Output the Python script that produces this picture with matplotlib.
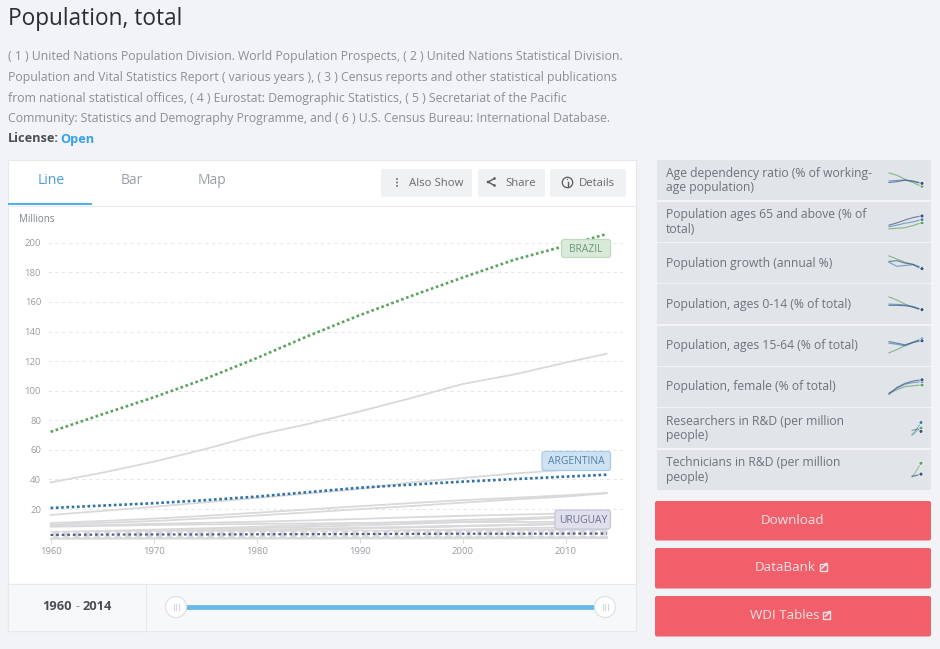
import matplotlib
matplotlib.use("Agg")
import matplotlib.pyplot as plt
from matplotlib.patches import Rectangle, FancyBboxPatch, Circle, Polygon

plt.rcParams['font.family'] = ['Open Sans', 'DejaVu Sans']

W, H = 940, 649
BG = '#f1f3f6'

# ---- data ----
years = [1960, 1965, 1970, 1975, 1980, 1985, 1990, 1995, 2000, 2005, 2010, 2014]
brazil    = [72.2, 84.0, 95.5, 108.0, 122.0, 137.0, 151.0, 164.0, 176.5, 188.5, 198.0, 206.0]
argentina = [20.7, 22.3, 23.9, 26.0, 28.4, 31.4, 34.4, 36.5, 38.5, 40.2, 41.9, 43.2]
uruguay   = [2.5, 2.7, 2.8, 2.8, 2.9, 3.0, 3.1, 3.2, 3.3, 3.3, 3.4, 3.4]
others = {
    'Mexico':     [38.0, 44.5, 52.0, 60.5, 70.0, 77.5, 86.0, 95.0, 104.5, 111.0, 119.0, 125.0],
    'Colombia':   [16.0, 18.7, 21.5, 24.5, 27.5, 30.5, 33.5, 38.0, 41.0, 44.0, 46.5, 48.0],
    'Peru':       [10.5, 11.9, 13.5, 15.4, 17.5, 19.7, 21.9, 24.0, 26.0, 27.6, 29.3, 30.9],
    'Venezuela':  [9.5, 10.6, 11.9, 13.6, 15.6, 17.7, 19.9, 22.0, 24.3, 26.5, 28.4, 30.7],
    'Chile':      [8.5, 9.2, 10.0, 10.7, 11.4, 12.3, 13.3, 14.4, 15.4, 16.2, 17.0, 17.8],
    'Cuba':       [8.0, 8.6, 9.2, 9.6, 9.9, 10.2, 10.6, 10.9, 11.1, 11.2, 11.3, 11.4],
    'Ecuador':    [4.5, 5.2, 6.1, 7.0, 8.0, 9.1, 10.2, 11.4, 12.6, 13.7, 15.0, 15.9],
    'Guatemala':  [4.1, 4.7, 5.4, 6.2, 7.0, 7.9, 8.9, 10.0, 11.2, 12.7, 14.3, 15.9],
    'Bolivia':    [3.7, 4.1, 4.5, 5.0, 5.6, 6.1, 6.8, 7.5, 8.3, 9.1, 10.0, 10.6],
    'Haiti':      [3.9, 4.3, 4.7, 5.1, 5.7, 6.4, 7.1, 7.8, 8.6, 9.3, 10.0, 10.6],
    'Dominican':  [3.3, 3.9, 4.5, 5.1, 5.8, 6.5, 7.2, 7.9, 8.6, 9.2, 9.9, 10.4],
    'Honduras':   [2.0, 2.4, 2.7, 3.2, 3.7, 4.3, 4.9, 5.6, 6.2, 7.0, 7.6, 8.0],
    'Paraguay':   [1.9, 2.2, 2.4, 2.8, 3.2, 3.7, 4.2, 4.8, 5.3, 5.8, 6.2, 6.6],
    'El Salvador':[2.8, 3.2, 3.7, 4.2, 4.6, 4.9, 5.1, 5.6, 5.9, 6.0, 6.0, 6.1],
    'Nicaragua':  [1.8, 2.1, 2.4, 2.8, 3.2, 3.6, 4.1, 4.6, 5.0, 5.4, 5.8, 6.0],
    'Costa Rica': [1.3, 1.5, 1.8, 2.1, 2.4, 2.7, 3.1, 3.5, 3.9, 4.2, 4.6, 4.8],
    'Panama':     [1.1, 1.3, 1.5, 1.7, 2.0, 2.2, 2.4, 2.7, 3.0, 3.3, 3.6, 3.9],
    'Jamaica':    [1.6, 1.8, 1.9, 2.0, 2.1, 2.3, 2.4, 2.5, 2.6, 2.7, 2.7, 2.8],
    'Trinidad':   [0.85, 0.9, 0.95, 1.0, 1.1, 1.2, 1.2, 1.25, 1.3, 1.3, 1.3, 1.35],
    'Guyana':     [0.55, 0.6, 0.7, 0.75, 0.8, 0.8, 0.75, 0.75, 0.75, 0.75, 0.75, 0.76],
    'Suriname':   [0.3, 0.33, 0.37, 0.37, 0.37, 0.38, 0.4, 0.43, 0.47, 0.5, 0.53, 0.54],
    'Bahamas':    [0.11, 0.14, 0.17, 0.19, 0.21, 0.23, 0.26, 0.28, 0.3, 0.33, 0.36, 0.38],
    'Belize':     [0.09, 0.1, 0.12, 0.13, 0.14, 0.16, 0.19, 0.22, 0.25, 0.28, 0.32, 0.35],
    'Barbados':   [0.23, 0.23, 0.24, 0.25, 0.25, 0.26, 0.26, 0.27, 0.27, 0.27, 0.28, 0.28],
}
yticks = [20, 40, 60, 80, 100, 120, 140, 160, 180, 200]
xticks = [1960, 1970, 1980, 1990, 2000, 2010]

side_labels = [
    "Age dependency ratio (% of working-\nage population)",
    "Population ages 65 and above (% of\ntotal)",
    "Population growth (annual %)",
    "Population, ages 0-14 (% of total)",
    "Population, ages 15-64 (% of total)",
    "Population, female (% of total)",
    "Researchers in R&D (per million\npeople)",
    "Technicians in R&D (per million\npeople)",
]
# sparkline values per side item: green, blue, dark series (0-1 relative heights)
spark_t = [0, 1, 2, 3, 4]
spark_green = [
    [0.95, 0.80, 0.55, 0.35, 0.12], [0.05, 0.08, 0.12, 0.25, 0.42], [0.95, 0.75, 0.55, 0.42, 0.25],
    [0.95, 0.75, 0.50, 0.30, 0.15], [0.05, 0.25, 0.50, 0.72, 0.90], [0.08, 0.30, 0.50, 0.55, 0.60],
]
spark_blue = [
    [0.45, 0.48, 0.50, 0.45, 0.32], [0.18, 0.28, 0.40, 0.48, 0.62], [0.55, 0.30, 0.35, 0.40, 0.20],
    [0.50, 0.48, 0.45, 0.35, 0.18], [0.65, 0.58, 0.48, 0.68, 0.92], [0.10, 0.40, 0.65, 0.75, 0.80],
]
spark_dark = [
    [0.35, 0.40, 0.50, 0.42, 0.30], [0.28, 0.42, 0.60, 0.75, 0.85], [0.60, 0.65, 0.50, 0.42, 0.15],
    [0.42, 0.42, 0.40, 0.32, 0.15], [0.75, 0.65, 0.55, 0.70, 0.80], [0.02, 0.45, 0.70, 0.85, 0.92],
]
research_blue = [[0.10, 0.30, 0.55, 0.85], [0.05, 0.10, 0.15, 0.20]]
research_dark = [[0.35, 0.40, 0.45, 0.30], [0.10, 0.12, 0.18, 0.22]]
research_green = [[0.05, 0.20, 0.40, 0.50], [0.05, 0.30, 0.60, 0.90]]

# ---- figure ----
fig = plt.figure(figsize=(W / 100, H / 100), dpi=100, facecolor=BG)
ui = fig.add_axes([0, 0, 1, 1], zorder=1)
ui.set_xlim(0, W); ui.set_ylim(H, 0); ui.axis('off')
top = fig.add_axes([0, 0, 1, 1], zorder=3)
top.set_xlim(0, W); top.set_ylim(H, 0); top.axis('off'); top.patch.set_visible(False)

def rect(x0, y0, x1, y1, fc, ec='none', lw=0, z=1):
    ui.add_patch(Rectangle((x0, y0), x1 - x0, y1 - y0, fc=fc, ec=ec, lw=lw, zorder=z))

def rrect(x0, y0, x1, y1, fc, ec='none', lw=0, r=2, z=1, ax=None):
    (ax or ui).add_patch(FancyBboxPatch((x0 + r, y0 + r), x1 - x0 - 2 * r, y1 - y0 - 2 * r,
                         boxstyle=f"round,pad={r},rounding_size={r}", fc=fc, ec=ec, lw=lw, zorder=z))

def txt(x, y, s, size, color, ha='left', va='center', weight='normal', **k):
    ui.text(x, y + 1, s, fontsize=size, color=color, ha=ha, va=va, fontweight=weight, zorder=5, **k)

# header
txt(8, 18, "Population, total", 16.3, '#2b2f33', weight='medium')
body = ["( 1 ) United Nations Population Division. World Population Prospects, ( 2 ) United Nations Statistical Division.",
        "Population and Vital Statistics Report ( various years ), ( 3 ) Census reports and other statistical publications",
        "from national statistical offices, ( 4 ) Eurostat: Demographic Statistics, ( 5 ) Secretariat of the Pacific",
        "Community: Statistics and Demography Programme, and ( 6 ) U.S. Census Bureau: International Database."]
for i, line in enumerate(body):
    txt(8, 55.5 + i * 20.8, line, 8.83, '#8a8f96')
txt(8, 138, "License:", 9.2, '#4a4f55', weight='bold')
txt(60, 138, "Open", 9.2, '#3aa0e6', weight='bold')

# chart card
rect(8, 160, 636, 631, '#ffffff', ec='#e6e9ec', lw=0.8, z=0.5)
rect(8, 584, 636, 631, '#f7f8fa', ec='#e6e9ec', lw=0.8, z=0.6)
rect(8, 584, 145.5, 631, '#f7f8fa', ec='#e6e9ec', lw=0.8, z=0.7)
ui.plot([8, 636], [205.5, 205.5], color='#e9ecef', lw=0.8, zorder=1)
rect(8, 203.2, 92, 205.2, '#4fb1e8', z=2)
txt(51, 180, "Line", 10, '#4a9fdc', ha='center', weight='medium')
txt(131.5, 180, "Bar", 10, '#9aa0a6', ha='center')
txt(212, 180, "Map", 10, '#9aa0a6', ha='center')

# toolbar buttons
for x0, x1 in [(381, 472), (478, 545), (550, 626)]:
    rrect(x0, 169, x1, 197, '#f0f1f3', r=2, z=1.2)
txt(409, 182, "Also Show", 8.2, '#666b70')
txt(505, 182, "Share", 8.2, '#666b70')
txt(579, 182, "Details", 8.2, '#666b70')
for dy in (-3.5, 0, 3.5):
    ui.add_patch(Circle((397, 182.5 + dy), 0.9, fc='#555a60', ec='none', zorder=5))
ui.plot([494.5, 488, 494.5], [178.5, 182, 185.5], color='#555a60', lw=1, zorder=5)
for px, py in [(494.5, 178.5), (488, 182), (494.5, 185.5)]:
    ui.add_patch(Circle((px, py), 1.3, fc='#555a60', ec='none', zorder=5))
ui.add_patch(Circle((567.5, 182.5), 5.2, fc='none', ec='#555a60', lw=0.9, zorder=5))
ui.plot([567.5, 567.5], [181.5, 185.5], color='#555a60', lw=1, zorder=5)
ui.add_patch(Circle((567.5, 179.5), 0.6, fc='#555a60', ec='none', zorder=5))

# slider
txt(42, 606, "1960", 9.3, '#4a4f55', weight='bold')
txt(77.5, 606, "-", 9.3, '#8a8f96', ha='center')
txt(83, 606, "2014", 9.3, '#4a4f55', weight='bold')
ui.plot([176, 605], [607, 607], color='#67b7e8', lw=3.4, solid_capstyle='butt', zorder=3)
for cx in (176, 605):
    ui.add_patch(Circle((cx, 607), 10.5, fc='#ffffff', ec='#dfe2e5', lw=0.9, zorder=4))
    for d in (-2.5, 0, 2.5):
        ui.plot([cx + d, cx + d], [604, 610], color='#d3d6da', lw=0.8, zorder=5)

# main chart axes: pixel frame x 48..623, y 228..538.6
px0, px1, py_top, py_bot = 48.0, 623.0, 228.0, 538.6
PX_PER_YEAR = 10.3
ax = fig.add_axes([px0 / W, 1 - py_bot / H, (px1 - px0) / W, (py_bot - py_top) / H], zorder=2)
ax.set_facecolor('none')
ax.set_xlim(1960 + (px0 - 50.6) / PX_PER_YEAR, 1960 + (px1 - 50.6) / PX_PER_YEAR)
ax.set_ylim(0, (py_bot - py_top) / 1.479)
for s in ax.spines.values():
    s.set_visible(False)
ax.set_yticks(yticks)
ax.set_xticks(xticks)
ax.tick_params(axis='y', length=0, pad=5, labelsize=6.8, labelcolor='#999da1')
ax.tick_params(axis='x', length=3, width=0.6, color='#cfd2d5', pad=3, labelsize=6.8, labelcolor='#999da1')
ax.grid(axis='y', color='#e4e6e8', lw=0.7, dashes=(3.5, 3.5))
ax.set_axisbelow(True)

for vals in others.values():
    ax.plot(years, vals, color='#d9d9db', lw=1.3, zorder=2, solid_capstyle='round', clip_on=False)
ax.plot(years, uruguay, color='#ffffff', lw=4.2, dashes=(0.05, 1.72), dash_capstyle='round', zorder=3)
ax.plot(years, uruguay, color='#4d5a8c', lw=1.6, dashes=(1.2, 1.3), zorder=4)
ax.plot(years, argentina, color='#2f72a8', lw=1.9, dashes=(1.0, 1.0), zorder=4)
ax.plot(years, brazil, color='#5aa35c', lw=1.9, dashes=(1.0, 1.0), zorder=4)

txt(19, 218, "Millions", 7, '#7d8287')

# series tags
def tag(x0, y0, x1, y1, label, fc, ec, color):
    rrect(x0, y0, x1, y1, fc, ec=ec, lw=0.9, r=2.5, z=6, ax=top)
    top.text((x0 + x1) / 2, (y0 + y1) / 2 + 1.0, label, fontsize=7.4, color=color, ha='center', va='center', zorder=7)

tag(561.5, 239.5, 610.5, 257.5, "BRAZIL", '#d9eada', '#bddabf', '#6b9a70')
tag(542, 451.5, 610.5, 470.5, "ARGENTINA", '#cfe2f1', '#a9cbe5', '#4d81ad')
tag(555, 510, 610.5, 529, "URUGUAY", '#dfe0ec', '#c5c7da', '#6b6f97')

# side panel
tops = [160, 201.5, 243, 284, 325.5, 366.5, 408, 449.5]
GREEN, BLUE, DARK = '#5aa35c', '#3b84b8', '#3f4f80'
for i, (t0, label) in enumerate(zip(tops, side_labels)):
    bot = t0 + 40.2
    rect(657, t0, 931, bot, '#e1e4e8', z=1)
    cy = (t0 + bot) / 2
    if '\n' in label:
        l1, l2 = label.split('\n')
        txt(666, cy - 7.7, l1, 8.75, '#6e7379')
        txt(666, cy + 6.7, l2, 8.75, '#6e7379')
    else:
        txt(666, cy - 1, label, 8.75, '#6e7379')
    if i < 6:
        sx0, sx1 = 889.0, 921.0
        sy0, sy1 = cy + 8, cy - 8
        for series, col in ((spark_green[i], GREEN), (spark_blue[i], BLUE), (spark_dark[i], DARK)):
            xs = [sx0 + (sx1 - sx0) * t / spark_t[-1] for t in spark_t]
            ys = [sy0 + (sy1 - sy0) * v for v in series]
            ui.plot(xs, ys, color=col, lw=0.8, zorder=3, alpha=0.7)
            ui.add_patch(Circle((xs[-1] + 1, ys[-1]), 2.0, fc=col, ec='#ffffff', lw=0.5, zorder=4))
    else:
        j = i - 6
        sx0, sx1 = 912.0, 921.0
        sy0, sy1 = cy + 8, cy - 8
        for series, col in ((research_green[j], GREEN), (research_blue[j], BLUE), (research_dark[j], DARK)):
            xs = [sx0 + (sx1 - sx0) * t / 3 for t in range(4)]
            ys = [sy0 + (sy1 - sy0) * v for v in series]
            ui.plot(xs, ys, color=col, lw=0.7, zorder=3, alpha=0.6)
            ui.add_patch(Circle((xs[-1], ys[-1]), 2.0, fc=col, ec='#ffffff', lw=0.5, zorder=4))

# action buttons
def ext_icon(x, y):
    ui.add_patch(Rectangle((x, y - 3.5), 7, 7, fc='none', ec='#fde3e5', lw=1.0, zorder=5))
    ui.plot([x + 2.5, x + 7.2], [y + 1, y - 3.8], color='#fde3e5', lw=1.1, zorder=6)
    ui.add_patch(Polygon([[x + 4, y - 4.5], [x + 8, y - 4.5], [x + 8, y - 0.5]], fc='#fde3e5', ec='none', zorder=6))

for y0, y1, label, cx, icon in [(501, 540.5, "Download", 793, None),
                                (548, 588.5, "DataBank", 785.5, 819.5),
                                (596, 636.5, "WDI Tables", 785, 823)]:
    rrect(655, y0, 931, y1, '#f15f6b', r=2, z=1)
    txt(cx, (y0 + y1) / 2 - 1.7, label, 9.6, '#fde3e5', ha='center')
    if icon:
        ext_icon(icon, (y0 + y1) / 2 - 1)

fig.savefig('out.png', dpi=100, facecolor=BG)
